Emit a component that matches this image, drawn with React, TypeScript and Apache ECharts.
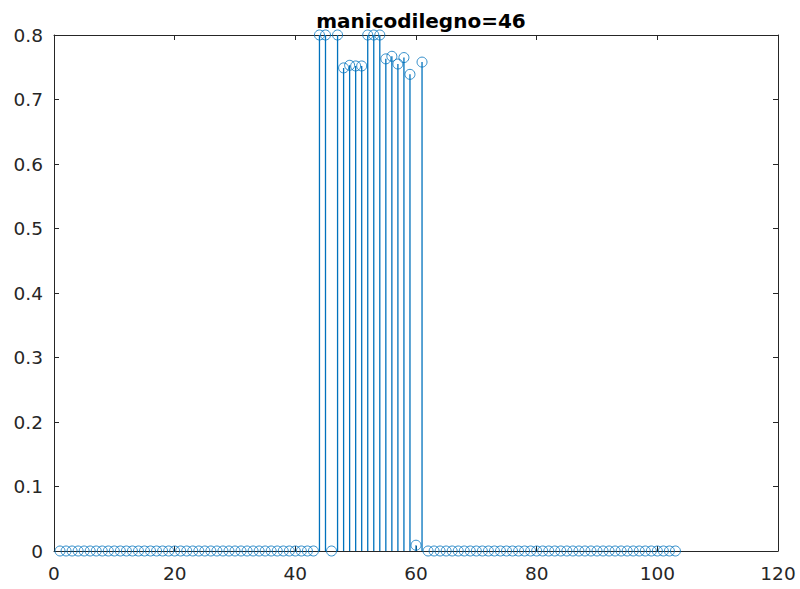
import React, { useEffect, useRef } from "react";
import * as echarts from "echarts";

const titleText = "manicodilegno=46";
const xTicks = [0, 20, 40, 60, 80, 100, 120];
const yTicks = [0, 0.1, 0.2, 0.3, 0.4, 0.5, 0.6, 0.7, 0.8];
// sample values for n = 1..103
const values: number[] = [
  0, 0, 0, 0, 0, 0, 0, 0, 0, 0,
  0, 0, 0, 0, 0, 0, 0, 0, 0, 0,
  0, 0, 0, 0, 0, 0, 0, 0, 0, 0,
  0, 0, 0, 0, 0, 0, 0, 0, 0, 0,
  0, 0, 0, 0.8, 0.8, 0, 0.8, 0.749, 0.753, 0.752,
  0.752, 0.8, 0.8, 0.8, 0.763, 0.767, 0.755, 0.765, 0.739, 0.009,
  0.758, 0, 0, 0, 0, 0, 0, 0, 0, 0,
  0, 0, 0, 0, 0, 0, 0, 0, 0, 0,
  0, 0, 0, 0, 0, 0, 0, 0, 0, 0,
  0, 0, 0, 0, 0, 0, 0, 0, 0, 0,
  0, 0, 0,
];

const COLOR = "#0072BD";
const AXIS = "#262626";
const FONT = "DejaVu Sans, Verdana, sans-serif";

export default function App() {
  const ref = useRef<HTMLDivElement>(null);
  useEffect(() => {
    if (!ref.current) return;
    const chart = echarts.init(ref.current, undefined, { renderer: "svg" });
    const pts = values.map((v, i) => [i + 1, v]);
    const axisCommon = {
      min: 0,
      axisLine: { show: true, onZero: false, lineStyle: { color: AXIS, width: 1 } },
      axisTick: { show: true, inside: true, length: 5, lineStyle: { color: AXIS } },
      splitLine: { show: false },
    };
    chart.setOption({
      animation: false,
      backgroundColor: "#ffffff",
      title: {
        text: titleText,
        left: 416,
        top: 6,
        textAlign: "center",
        textStyle: { fontFamily: FONT, fontSize: 20, fontWeight: "bold", color: "#000" },
      },
      grid: { left: 54, right: 22, top: 35, bottom: 38 },
      xAxis: [
        {
          ...axisCommon,
          type: "value",
          max: 120,
          interval: 20,
          position: "bottom",
          axisLabel: {
            fontFamily: FONT,
            fontSize: 18.5,
            color: AXIS,
            margin: 13,
            formatter: (v: number) => String(xTicks.find((t) => t === v) ?? v),
          },
        },
        {
          ...axisCommon,
          type: "value",
          max: 120,
          interval: 20,
          position: "top",
          axisLabel: { show: false },
        },
      ],
      yAxis: [
        {
          ...axisCommon,
          type: "value",
          max: 0.8,
          interval: 0.1,
          position: "left",
          axisLabel: {
            fontFamily: FONT,
            fontSize: 18.5,
            color: AXIS,
            margin: 11,
            formatter: (v: number) => {
              const m = yTicks.find((t) => Math.abs(t - v) < 1e-9) ?? v;
              return m === 0 ? "0" : String(Math.round(m * 10) / 10);
            },
          },
        },
        {
          ...axisCommon,
          type: "value",
          max: 0.8,
          interval: 0.1,
          position: "right",
          axisLabel: { show: false },
        },
      ],
      series: [
        {
          type: "custom",
          xAxisIndex: 0,
          yAxisIndex: 0,
          data: pts,
          clip: false,
          renderItem: (params: any, api: any) => {
            const x = api.value(0);
            const y = api.value(1);
            const p0 = api.coord([x, 0]);
            const p1 = api.coord([x, y]);
            return {
              type: "line",
              shape: { x1: p0[0], y1: p0[1], x2: p1[0], y2: p1[1] },
              style: { stroke: COLOR, lineWidth: 1.3 },
            };
          },
          z: 2,
        },
        {
          type: "scatter",
          xAxisIndex: 0,
          yAxisIndex: 0,
          data: pts,
          symbol: "circle",
          symbolSize: 10,
          clip: false,
          itemStyle: { color: "rgba(0,0,0,0)", borderColor: COLOR, borderWidth: 1 },
          z: 3,
        },
      ],
    });
    return () => chart.dispose();
  }, []);
  return (
    <div
      ref={ref}
      style={{ position: "fixed", left: 0, top: 0, width: 800, height: 589 }}
    />
  );
}
